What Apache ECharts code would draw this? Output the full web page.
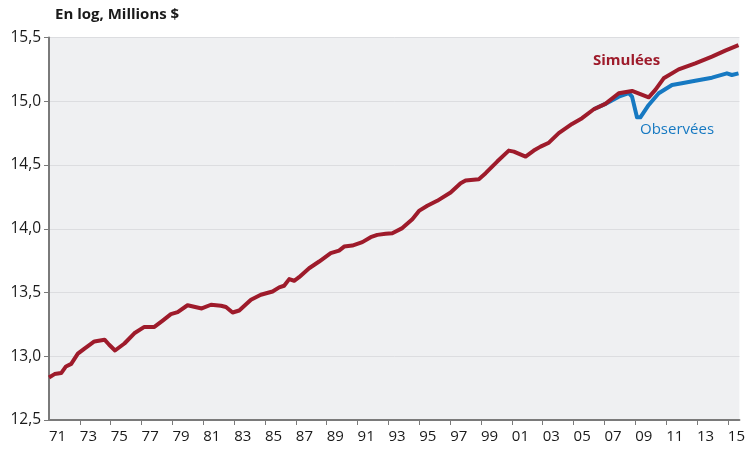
<!DOCTYPE html>
<html>
<head>
<meta charset="utf-8">
<script src="https://cdn.jsdelivr.net/npm/echarts@6/dist/echarts.min.js"></script>
<style>
  html, body { margin: 0; padding: 0; background: #fff; }
  #chart { width: 748px; height: 449px; }
</style>
</head>
<body>
<div id="chart"></div>
<script>
  // valeurs (année décimale, log du PIB)
  var simYears = [1971.0, 1971.36, 1971.79, 1972.1, 1972.44, 1972.87, 1973.3, 1973.94, 1974.6, 1974.9,
    1975.28, 1975.89, 1976.53, 1977.18, 1977.83, 1978.37, 1978.9, 1979.34, 1979.98, 1980.9,
    1981.5, 1982.15, 1982.47, 1982.9, 1983.33, 1984.09, 1984.73, 1985.49, 1985.92, 1986.24,
    1986.57, 1986.89, 1987.21, 1987.86, 1988.51, 1989.26, 1989.8, 1990.13, 1990.66, 1991.31,
    1991.85, 1992.28, 1992.82, 1993.25, 1993.9, 1994.55, 1994.98, 1995.52, 1996.16, 1997.03,
    1997.68, 1998.0, 1998.86, 1999.3, 2000.05, 2000.8, 2001.13, 2001.89, 2002.42, 2002.86,
    2003.4, 2004.04, 2004.9, 2005.55, 2006.31, 2007.06, 2007.93, 2008.79, 2009.87, 2010.3,
    2010.84, 2011.81, 2012.89, 2013.97, 2014.83, 2015.69];
  var simValues = [12.834, 12.86, 12.868, 12.92, 12.94, 13.02, 13.06, 13.116, 13.13, 13.09,
    13.045, 13.10, 13.18, 13.23, 13.23, 13.28, 13.33, 13.346, 13.40, 13.375,
    13.404, 13.396, 13.386, 13.343, 13.359, 13.443, 13.482, 13.508, 13.54, 13.553,
    13.605, 13.592, 13.62, 13.69, 13.743, 13.809, 13.829, 13.86, 13.868, 13.895,
    13.934, 13.952, 13.96, 13.965, 14.005, 14.075, 14.14, 14.18, 14.219, 14.284,
    14.357, 14.378, 14.389, 14.436, 14.527, 14.613, 14.605, 14.566, 14.613, 14.644,
    14.675, 14.75, 14.822, 14.867, 14.937, 14.979, 15.063, 15.081, 15.031, 15.089,
    15.18, 15.25, 15.297, 15.35, 15.397, 15.44];

  var obsYears = [2006.31, 2007.06, 2007.93, 2008.58, 2008.79, 2009.11, 2009.33, 2009.87, 2010.52,
    2011.38, 2012.02, 2012.89, 2013.97, 2014.94, 2015.26, 2015.69];
  var obsValues = [14.937, 14.979, 15.036, 15.063, 15.036, 14.874, 14.874, 14.971, 15.063,
    15.128, 15.141, 15.161, 15.185, 15.219, 15.206, 15.219];

  var tickLabels = ['71', '73', '75', '77', '79', '81', '83', '85', '87', '89', '91', '93',
    '95', '97', '99', '01', '03', '05', '07', '09', '11', '13', '15'];

  var baseYear = 1971;
  var font = 'Open Sans';

  function pairs(xs, ys) {
    return xs.map(function (x, i) { return [x - baseYear, ys[i]]; });
  }
  var tickPos = tickLabels.map(function (t, i) { return i * 2; });

  var chart = echarts.init(document.getElementById('chart'));
  var option = {
    backgroundColor: '#ffffff',
    animation: false,
    textStyle: { fontFamily: font },
    title: {
      text: 'En log, Millions $',
      left: 50,
      top: 2,
      textStyle: { fontFamily: font, fontSize: 15, fontWeight: 'bold', color: '#1a1a1a' }
    },
    grid: {
      left: 49,
      right: 7,
      top: 37.5,
      bottom: 29,
      containLabel: false,
      show: true,
      backgroundColor: '#eff0f2',
      borderWidth: 0
    },
    xAxis: {
      type: 'value',
      min: 0,
      max: 44.75,
      interval: 2,
      axisLine: { show: true, onZero: false, lineStyle: { color: '#7a7a7a', width: 2 } },
      axisTick: { show: true, length: 5, customValues: tickPos.slice(1), lineStyle: { color: '#7a7a7a', width: 1 } },
      axisLabel: {
        customValues: tickPos,
        align: 'left',
        margin: 9,
        fontSize: 15,
        color: '#1a1a1a',
        formatter: function (v) { return tickLabels[Math.round(v / 2)] || ''; }
      },
      splitLine: { show: false }
    },
    yAxis: {
      type: 'value',
      min: 12.5,
      max: 15.5,
      interval: 0.5,
      axisLine: { show: true, lineStyle: { color: '#7a7a7a', width: 2 } },
      axisTick: { show: true, length: 5, lineStyle: { color: '#7a7a7a', width: 1 } },
      axisLabel: {
        margin: 8,
        fontSize: 15.5,
        color: '#1a1a1a',
        formatter: function (v) { return v.toFixed(1).replace('.', ','); }
      },
      splitLine: { show: true, lineStyle: { color: '#dcdde0', width: 1 } }
    },
    series: [
      {
        name: 'Observées',
        type: 'line',
        data: pairs(obsYears, obsValues),
        showSymbol: false,
        lineStyle: { color: '#1679c2', width: 4, join: 'round' },
        z: 2
      },
      {
        name: 'Simulées',
        type: 'line',
        data: pairs(simYears, simValues),
        showSymbol: false,
        lineStyle: { color: '#9e1b2b', width: 4, join: 'round' },
        z: 3
      }
    ],
    graphic: [
      {
        type: 'text', left: 593, top: 53,
        style: { text: 'Simulées', fill: '#9e1b2b', font: 'bold 15px "Open Sans"' }
      },
      {
        type: 'text', left: 640, top: 122,
        style: { text: 'Observées', fill: '#1679c2', font: '15px "Open Sans"' }
      }
    ]
  };
  chart.setOption(option);
</script>
</body>
</html>
